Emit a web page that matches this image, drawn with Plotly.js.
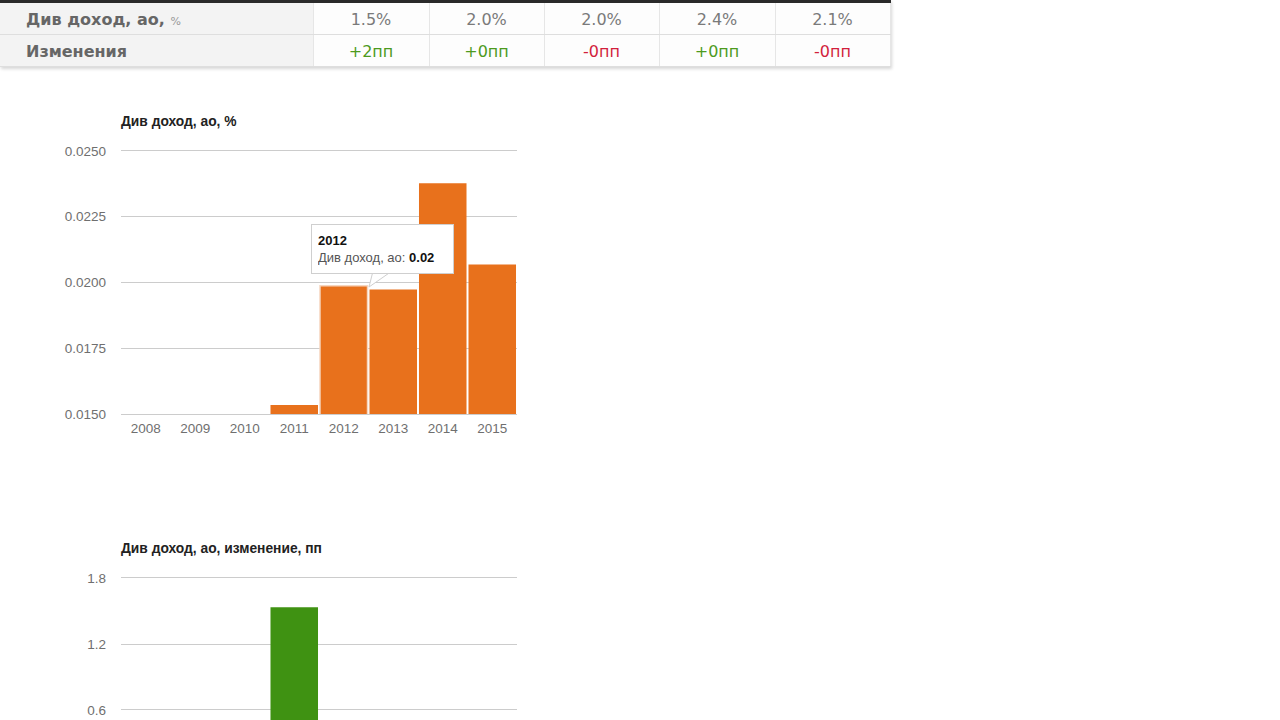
<!DOCTYPE html>
<html>
<head>
<meta charset="utf-8">
<script src="https://cdn.plot.ly/plotly-3.0.1.min.js"></script>
<style>
  html, body { margin:0; padding:0; background:#fff; width:1280px; height:720px; overflow:hidden; }
  #tbl { position:absolute; left:0; top:0px; width:890px; table-layout:fixed; border-collapse:collapse; font-family:"DejaVu Sans", Verdana, sans-serif;
         box-shadow: 1px 2px 3px rgba(0,0,0,0.16); border-top:3px solid #2a2a2a; }
  #tbl td { height:30px; padding:1px 0 0 0; border-bottom:1px solid #dedede; border-right:1px solid #e6e6e6; text-align:center; font-size:16px; color:#7a7a7a; background:#fdfdfd; }
  #tbl td.lab { text-align:left; padding-left:26px; font-weight:bold; color:#666; background:#f3f3f3; font-size:16px; }
  #tbl td.lab small { font-weight:normal; font-size:11px; color:#999; }
  #tbl td.pos { color:#4d9a1e; }
  #tbl td.neg { color:#d21f3c; }
  #c1 { position:absolute; left:0; top:100px; width:540px; height:360px; }
  #c2 { position:absolute; left:0; top:520px; width:540px; height:200px; }
</style>
</head>
<body>
<table id="tbl"><colgroup><col style="width:313px"><col style="width:116px"><col style="width:115px"><col style="width:115px"><col style="width:116px"><col style="width:115px"></colgroup><tbody id="tb"></tbody></table>
<div id="c1"></div>
<div id="c2"></div>
<script>
// ---- data ----
var tableYears = ["2011", "2012", "2013", "2014", "2015"];
var tableYield = ["1.5%", "2.0%", "2.0%", "2.4%", "2.1%"];
var tableChange = ["+2пп", "+0пп", "-0пп", "+0пп", "-0пп"];

var years = ["2008", "2009", "2010", "2011", "2012", "2013", "2014", "2015"];
var yieldValues = [0, 0, 0, 0.01534, 0.01988, 0.01973, 0.02377, 0.02068];
var changeValues = [0, 0, 0, 1.534, 0.454, -0.015, 0.404, -0.309];

var yieldTicks = [0.015, 0.0175, 0.02, 0.0225, 0.025];
var yieldTickText = ["0.0150", "0.0175", "0.0200", "0.0225", "0.0250"];
var changeTicks = [0.6, 1.2, 1.8];
var changeTickText = ["0.6", "1.2", "1.8"];

// ---- table ----
(function(){
  var tb = document.getElementById('tb');
  var r1 = '<tr><td class="lab">Див доход, ао, <small>%</small></td>';
  tableYield.forEach(function(v){ r1 += '<td>' + v + '</td>'; });
  r1 += '</tr>';
  var r2 = '<tr><td class="lab">Изменения</td>';
  tableChange.forEach(function(v){ r2 += '<td class="' + (v.charAt(0) === '-' ? 'neg' : 'pos') + '">' + v + '</td>'; });
  r2 += '</tr>';
  tb.innerHTML = r1 + r2;
})();

var tickFont = {family: "Arial, 'Liberation Sans', sans-serif", size: 13.5, color: "#6f6f6f"};
var titleFont = {family: "Arial, 'Liberation Sans', sans-serif", size: 13.8, color: "#222", weight: "bold"};

// ---- chart 1 ----
var lineW = years.map(function(y){ return y === "2012" ? 1.5 : 0; });
Plotly.newPlot('c1', [{
  type: 'bar', x: years, y: yieldValues,
  marker: {color: '#e8711c', line: {color: '#f6d6bf', width: lineW}},
  hoverinfo: 'none'
}], {
  width: 540, height: 360,
  margin: {l: 121, r: 23, t: 51, b: 46},
  paper_bgcolor: '#fff', plot_bgcolor: '#fff',
  bargap: 0.04,
  showlegend: false,
  title: {text: 'Див доход, ао, %', font: titleFont, x: 121/540, xanchor: 'left', xref: 'container', y: 1 - 21/360, yanchor: 'middle', yref: 'container'},
  xaxis: {type: 'category', tickfont: tickFont, showgrid: false, showline: true, linecolor: '#cccccc', linewidth: 1, mirror: true,
          ticks: '', fixedrange: true, ticklabelstandoff: 2},
  yaxis: {range: [0.015, 0.025], tickvals: yieldTicks, ticktext: yieldTickText, tickfont: tickFont,
          gridcolor: '#cccccc', gridwidth: 1, zeroline: false, showline: false, ticks: '', ticklabelstandoff: 14},
  annotations: [{
    xref: 'paper', yref: 'paper', x: (311 - 121) / 396, y: (414 - 224) / 263, xanchor: 'left', yanchor: 'top',
    showarrow: false, align: 'left',
    text: '<b>2012</b><br><span style="color:#555">Див доход, ао: </span><b>0.02</b>',
    font: {family: "Arial, 'Liberation Sans', sans-serif", size: 13, color: '#111'},
    bgcolor: '#ffffff', bordercolor: '#cfcfcf', borderwidth: 1, borderpad: 6, width: 129, height: 36
  }],
  shapes: [{
    type: 'path', xref: 'paper', yref: 'paper', layer: 'above',
    path: 'M ' + ((373 - 121) / 396) + ' ' + ((414 - 271) / 263) +
          ' L ' + ((369 - 121) / 396) + ' ' + ((414 - 287) / 263) +
          ' L ' + ((392 - 121) / 396) + ' ' + ((414 - 271) / 263) + ' Z',
    fillcolor: '#ffffff', line: {color: '#cfcfcf', width: 1}
  }]
}, {displayModeBar: false, staticPlot: true});

// ---- chart 2 (only its upper part is in view) ----
var changeColors = changeValues.map(function(v){ return v < 0 ? '#c9232e' : '#3f9212'; });
Plotly.newPlot('c2', [{
  type: 'bar', x: years, y: changeValues,
  marker: {color: changeColors},
  hoverinfo: 'none'
}], {
  width: 540, height: 200,
  margin: {l: 121, r: 23, t: 58, b: 0},
  paper_bgcolor: '#fff', plot_bgcolor: '#fff',
  bargap: 0.04,
  showlegend: false,
  title: {text: 'Див доход, ао, изменение, пп', font: titleFont, x: 121/540, xanchor: 'left', xref: 'container', y: 1 - 28/200, yanchor: 'middle', yref: 'container'},
  xaxis: {type: 'category', side: 'top', showticklabels: false, showgrid: false, showline: true, linecolor: '#cccccc', linewidth: 1,
          ticks: '', fixedrange: true},
  yaxis: {range: [0.509, 1.8], tickvals: changeTicks, ticktext: changeTickText, tickfont: tickFont,
          gridcolor: '#cccccc', gridwidth: 1, zeroline: false, showline: false, ticks: '', ticklabelstandoff: 14}
}, {displayModeBar: false, staticPlot: true});
</script>
</body>
</html>
